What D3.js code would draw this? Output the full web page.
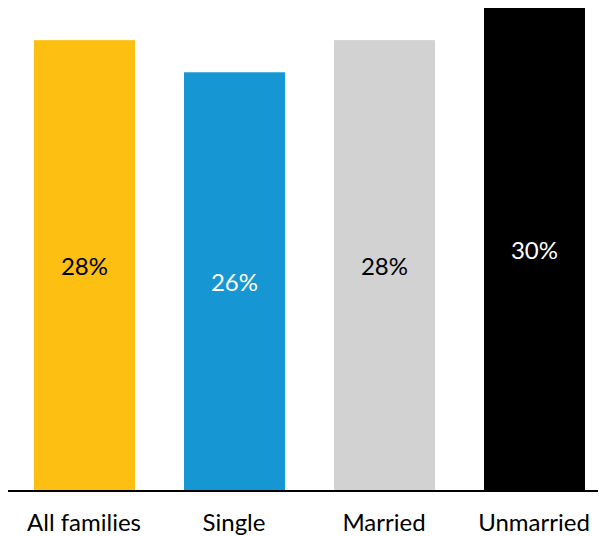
<!DOCTYPE html>
<html>
<head>
<meta charset="utf-8">
<script src="https://cdn.jsdelivr.net/npm/d3@7"></script>
<style>
  body { margin: 0; background: #fff; }
  svg { display: block; font-family: Lato, sans-serif; }
</style>
</head>
<body>
<svg width="599" height="536"></svg>
<script>
// data
var categories = ['All families', 'Single', 'Married', 'Unmarried'];
var shares = [28, 26, 28, 30];
var barColors = ['#fdbf11', '#1696d2', '#d2d2d2', '#000000'];
var labelColors = ['#000000', '#ffffff', '#000000', '#ffffff'];

var svg = d3.select('svg'),
    baseline = 490;

var x = d3.scaleBand()
    .domain(categories)
    .range([9, 609])
    .paddingInner(1 / 3)
    .paddingOuter(1 / 6);

var y = d3.scaleLinear()
    .domain([0, 30])
    .range([baseline, 8]);

var rows = categories.map(function(c, i) {
  return { cat: c, v: shares[i], fill: barColors[i], text: labelColors[i] };
});

// bars
svg.selectAll('.bar')
  .data(rows)
  .enter().append('rect')
    .attr('class', 'bar')
    .attr('x', function(d) { return x(d.cat); })
    .attr('y', function(d) { return y(d.v); })
    .attr('width', x.bandwidth() + 1)
    .attr('height', function(d) { return baseline - y(d.v); })
    .attr('fill', function(d) { return d.fill; });

// value labels, halfway up each bar
svg.selectAll('.val')
  .data(rows)
  .enter().append('text')
    .attr('class', 'val')
    .attr('x', function(d) { return x(d.cat) + x.bandwidth() / 2 + 0.5; })
    .attr('y', function(d) { return (y(d.v) + baseline) / 2; })
    .attr('dy', '0.42em')
    .attr('text-anchor', 'middle')
    .attr('font-size', 24)
    .attr('fill', function(d) { return d.text; })
    .text(function(d) { return d.v + '%'; });

// x axis: plain baseline with category names
var axis = svg.append('g')
    .attr('transform', 'translate(0,' + (baseline + 1) + ')')
    .call(d3.axisBottom(x).tickSize(0));

axis.select('.domain')
    .attr('d', 'M8,0H598')
    .attr('stroke', '#000')
    .attr('stroke-width', 2);

axis.selectAll('text')
    .attr('font-family', 'Lato, sans-serif')
    .attr('font-size', 24)
    .attr('fill', '#000')
    .attr('y', 40)
    .attr('dy', 0);
</script>
</body>
</html>
